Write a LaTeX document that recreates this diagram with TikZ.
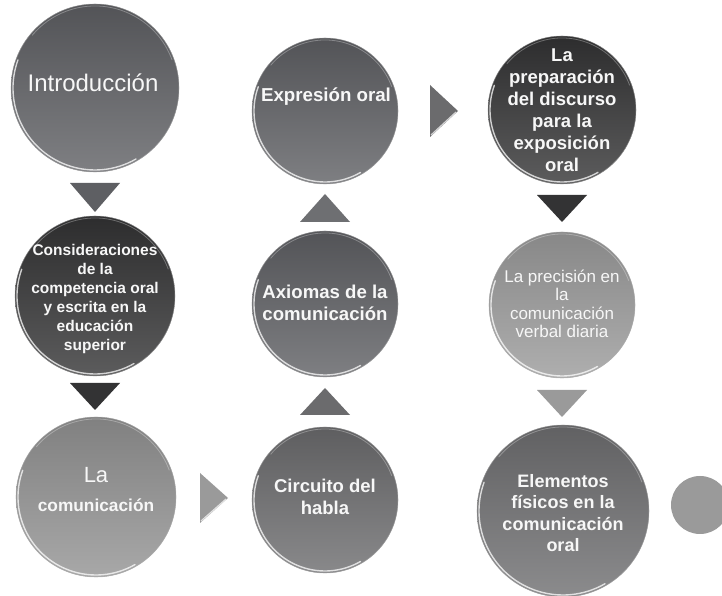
\documentclass[tikz,border=0pt]{standalone}
\usepackage{fontspec}
\setmainfont{Liberation Sans}
\definecolor{cmid}{HTML}{5E5F63}
\definecolor{cdark}{HTML}{333334}
\definecolor{clight}{HTML}{929292}
\definecolor{ccirc}{HTML}{6B6B6D}
\definecolor{cprec}{HTML}{9A9A9A}
\definecolor{celem}{HTML}{6E6E70}
\definecolor{ctxt}{HTML}{F7F7F7}
\tikzset{
  bubtext/.style={text=ctxt, align=center, inner sep=0pt},
  boldfont/.style={font=\fontsize{#1}{1.19*#1}\selectfont\bfseries},
}
\newcommand\mybubble[5]{%
  \node[circle, inner sep=0pt, minimum size=2*#4pt, fill=#5] (#1) at (#2,#3) {};
  \shade[shading angle=-35, top color=#5!88!black, bottom color=#5!80!white] (#1.center) circle[radius=#4pt];
  \draw[white, opacity=0.75, line width=1.4pt, line cap=round] ([shift={(160:#4pt-2pt)}]#1.center) arc[start angle=160, end angle=300, radius=#4pt-2pt];
  \draw[white, opacity=0.3, line width=0.8pt] ([shift={(20:#4pt-2pt)}]#1.center) arc[start angle=20, end angle=140, radius=#4pt-2pt];
  \draw[black!30, opacity=0.6, line width=0.6pt] (#1.center) circle[radius=#4pt];
}
\newcommand\mytri[4]{\fill[#4] (#1) -- (#2) -- (#3) -- cycle;}
\begin{document}
\begin{tikzpicture}[x=1pt,y=1pt]
\useasboundingbox (0,0) rectangle (722,596);
\fill[white] (0,0) rectangle (722,596);

% bubbles
\mybubble{intro}{95}{508}{84}{cmid}
\mybubble{consid}{95}{300}{80}{cdark}
\mybubble{lacom}{96}{99}{80}{clight}
\mybubble{circ}{325}{96}{73}{ccirc}
\mybubble{axio}{325}{292}{73}{cmid}
\mybubble{expr}{325}{485}{73}{cmid}
\mybubble{prep}{562}{486}{74}{cdark}
\mybubble{prec}{562}{291}{73}{cprec}
\mybubble{elem}{563}{85}{86}{celem}
\node[circle, inner sep=0pt, minimum size=58pt, fill=cprec] (small) at (700,91) {};

% texts
\node[bubtext, font=\fontsize{24}{28}\selectfont] (tintro) at (93,513) {Introducción};
\node[bubtext, font=\fontsize{15.5}{19}\selectfont\bfseries] (tconsid) at (95,297) {Consideraciones\\de la\\competencia oral\\y escrita en la\\educación\\superior};
\node[bubtext, font=\fontsize{22}{26}\selectfont, anchor=base] (tla) at (96,113) {La};
\node[bubtext, font=\fontsize{17.3}{20}\selectfont\bfseries, anchor=base] (tcom) at (96,84) {comunicación};
\node[bubtext, font=\fontsize{18.5}{22}\selectfont\bfseries] (tcirc) at (325,99) {Circuito del\\habla};
\node[bubtext, font=\fontsize{18.6}{22}\selectfont\bfseries] (taxio) at (325,293) {Axiomas de la\\comunicación};
\node[bubtext, font=\fontsize{18.7}{22}\selectfont\bfseries] (texpr) at (326,499) {Expresión oral};
\node[bubtext, font=\fontsize{18.5}{22}\selectfont\bfseries] (tprep) at (562,486) {La\\preparación\\del discurso\\para la\\exposición\\oral};
\node[bubtext, font=\fontsize{17}{18.5}\selectfont] (tprec) at (562,292) {La precisión en\\la\\comunicación\\verbal diaria};
\node[bubtext, font=\fontsize{18}{21.5}\selectfont\bfseries] (telem) at (563,83) {Elementos\\físicos en la\\comunicación\\oral};

% triangles
\mytri{70,413}{120,413}{95,384}{cmid}
\mytri{70,213}{120,213}{95,186}{cdark}
\mytri{200,123}{200,73}{228,98}{cprec}
\draw[white, opacity=0.7, line width=1.2pt] (201,75) -- (226,97);
\mytri{300,181}{350,181}{325,208}{ccirc}
\mytri{300,374}{350,374}{325,402}{cmid!90!white}
\mytri{430,511}{430,459}{458,485}{ccirc}
\draw[white, opacity=0.7, line width=1.2pt] (431,461) -- (456,484);
\mytri{537,401}{587,401}{562,374}{cdark}
\mytri{537,206}{587,206}{562,179}{cprec}
\end{tikzpicture}
\end{document}
